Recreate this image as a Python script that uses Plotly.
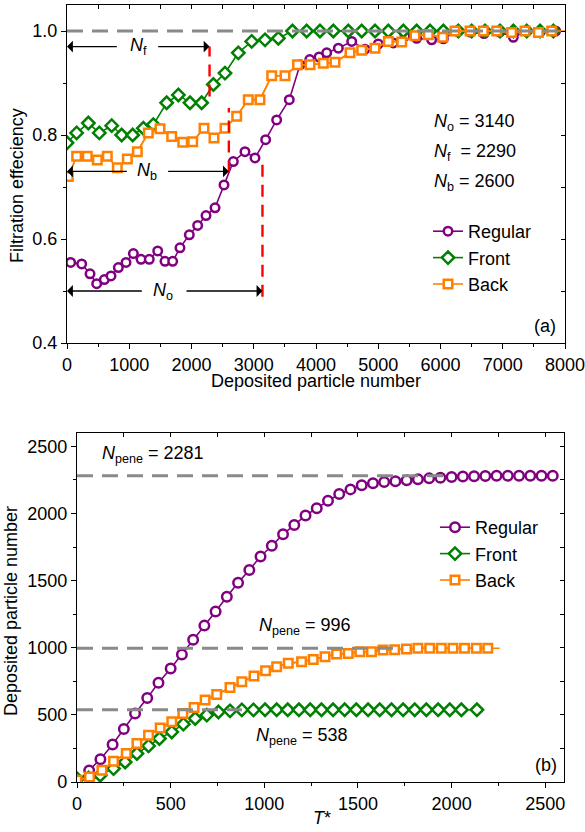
import plotly.graph_objects as go

# ---------------- panel (a) data ----------------
reg_a_x = [59, 236, 370, 477, 600, 707, 825, 948, 1066, 1189, 1322, 1457, 1574, 1698, 1815, 1965,
           2099, 2233, 2378, 2522, 2672, 2859, 3020, 3191, 3368, 3571, 3743, 3900, 4050, 4172, 4359,
           4574, 4787, 5000, 5242, 5430, 5617, 5858, 6046, 6260, 6480, 6700, 6950, 7170, 7385, 7600, 7850]
reg_a_y = [0.555, 0.552, 0.533, 0.514, 0.522, 0.529, 0.545, 0.555, 0.572, 0.561, 0.561, 0.577, 0.557,
           0.557, 0.583, 0.608, 0.626, 0.645, 0.660, 0.704, 0.749, 0.768, 0.756, 0.791, 0.829, 0.868,
           0.935, 0.945, 0.950, 0.958, 0.967, 0.980, 0.965, 0.975, 0.977, 0.990, 0.986, 0.983, 0.985,
           1.0, 0.998, 0.995, 0.998, 0.988, 1.0, 0.998, 1.0]

front_a_x = [0, 155, 343, 519, 718, 878, 1055, 1226, 1387, 1601, 1789, 1976, 2163, 2351, 2538, 2752,
             2967, 3181, 3395, 3622, 3850, 4064, 4278, 4519, 4734, 4948, 5162, 5403, 5617, 5831, 6046,
             6286, 6501, 6715, 6956, 7170, 7385, 7599, 7813]
front_a_y = [0.785, 0.804, 0.823, 0.804, 0.818, 0.800, 0.800, 0.813, 0.820, 0.862, 0.877, 0.862, 0.862,
             0.897, 0.919, 0.958, 0.980, 0.983, 0.986, 1.0, 1.0, 1.0, 1.0, 1.0, 1.0, 1.0, 1.0, 1.0, 1.0,
             1.0, 1.0, 1.0, 1.0, 1.0, 1.0, 1.0, 1.0, 1.0, 1.0]

back_a_x = [21, 155, 326, 487, 647, 808, 969, 1130, 1306, 1494, 1682, 1859, 2019, 2201, 2361, 2538,
            2726, 2912, 3100, 3288, 3502, 3703, 3904, 4118, 4305, 4546, 4734, 4948, 5162, 5377, 5590,
            5804, 6035, 6233, 6474, 6688, 6903, 7143, 7357, 7572, 7786, 8000]
back_a_y = [0.720, 0.759, 0.759, 0.752, 0.759, 0.737, 0.754, 0.768, 0.804, 0.812, 0.797, 0.786, 0.787,
            0.813, 0.794, 0.813, 0.836, 0.868, 0.868, 0.914, 0.914, 0.935, 0.935, 0.938, 0.940, 0.958,
            0.963, 0.967, 0.980, 0.979, 0.991, 0.993, 0.988, 1.0, 1.0, 1.0, 1.0, 0.997, 1.0, 0.997, 1.0, 1.0]

# critical particle numbers (a): N_o, N_f, N_b
n_names_a = ["o", "f", "b"]
n_values_a = [3140, 2290, 2600]
n_arrow_y = [0.50, 0.97, 0.73]          # level of the double arrows
n_red_top = [0.757, 0.97, 0.852]        # red marker line extent
n_red_bot = [0.489, 0.874, 0.728]
n_label_x = [1547, 1146, 1280]
n_gap = [[1226, 1896], [825, 1441], [985, 1601]]   # gap in arrow for label
full_eff = 1.0

# ---------------- panel (b) data ----------------
reg_b_x = [0, 65, 125, 190, 250, 310, 375, 435, 500, 560, 620, 680, 740, 800, 860, 920, 980, 1040,
           1100, 1160, 1220, 1280, 1340, 1400, 1460, 1520, 1580, 1640, 1700, 1760, 1820, 1880, 1940,
           2000, 2060, 2120, 2180, 2240, 2300, 2360, 2420, 2480, 2540]
reg_b_y = [0, 85, 170, 280, 395, 510, 625, 740, 845, 950, 1060, 1165, 1270, 1380, 1485, 1580, 1680,
           1760, 1845, 1915, 1985, 2040, 2095, 2145, 2180, 2210, 2225, 2235, 2240, 2248, 2255, 2262,
           2266, 2272, 2276, 2278, 2280, 2281, 2281, 2281, 2281, 2281, 2281]

front_b_x = [0, 62, 124, 195, 257, 320, 382, 440, 506, 568, 631, 693, 755, 817, 880, 942, 1004, 1066,
             1125, 1185, 1245, 1305, 1367, 1429, 1491, 1554, 1616, 1679, 1741, 1803, 1865, 1928, 1990,
             2052, 2135]
front_b_y = [25, 30, 50, 100, 149, 212, 269, 324, 373, 431, 473, 498, 522, 530, 537, 537, 538, 538,
             538, 538, 538, 538, 538, 538, 538, 538, 538, 538, 538, 538, 538, 538, 538, 538, 538]

back_b_x = [0, 67, 133, 195, 263, 320, 382, 444, 506, 565, 625, 684, 746, 817, 880, 945, 1007, 1066,
            1128, 1199, 1261, 1324, 1386, 1448, 1510, 1572, 1634, 1696, 1759, 1820, 1883, 1945, 2007,
            2069, 2132, 2193, 2256]
back_b_y = [13, 37, 87, 154, 212, 287, 348, 403, 448, 510, 555, 610, 652, 704, 746, 789, 828, 858,
            884, 896, 913, 933, 953, 958, 970, 970, 983, 985, 990, 996, 996, 996, 996, 996, 996, 996, 996]

n_pene = [2281, 996, 538]
n_pene_line_end = [2000, 1700, 880]
n_pene_label_x = [125, 960, 945]
n_pene_label_y = [2438, 1157, 336]

# ---------------- styling ----------------
W, H = 585, 832
FONT = "Arial, Liberation Sans, sans-serif"
FS = 18
PURPLE, GREEN, ORANGE, GRAY = "#800080", "#008000", "#FF8000", "#8a8a8a"


def pxx(v):
    return v / W


def pxy(v):
    return 1 - v / H


fig = go.Figure()


def add_series(x, y, name, color, symbol, size, xa, ya, legend, extend=False):
    if extend:
        fig.add_trace(go.Scatter(x=x, y=y, mode="lines", line=dict(color=color, width=1.6),
                                 xaxis=xa, yaxis=ya, showlegend=False, hoverinfo="skip"))
        x, y = x[:-1], y[:-1]
    fig.add_trace(go.Scatter(
        x=x, y=y, mode="lines+markers", name=name,
        line=dict(color=color, width=1.6),
        marker=dict(symbol=symbol, size=size, color="white", line=dict(color=color, width=2.5)),
        xaxis=xa, yaxis=ya, legend=legend))


add_series(reg_a_x, reg_a_y, "Regular", PURPLE, "circle", 8.5, "x", "y", "legend")
add_series(front_a_x, front_a_y, "Front", GREEN, "diamond", 9.5, "x", "y", "legend")
add_series(back_a_x, back_a_y, "Back", ORANGE, "square", 8.5, "x", "y", "legend", extend=True)

add_series(reg_b_x, reg_b_y, "Regular", PURPLE, "circle", 9.5, "x2", "y2", "legend2")
add_series(front_b_x, front_b_y, "Front", GREEN, "diamond", 9.5, "x2", "y2", "legend2")
add_series(back_b_x, back_b_y, "Back", ORANGE, "square", 8.5, "x2", "y2", "legend2", extend=True)

# dummy traces to realise the mirrored (inside-tick) axes
fig.add_trace(go.Scatter(x=[None], y=[None], xaxis="x3", yaxis="y3", showlegend=False, hoverinfo="skip"))
fig.add_trace(go.Scatter(x=[None], y=[None], xaxis="x4", yaxis="y4", showlegend=False, hoverinfo="skip"))

shapes = []
annos = []
TF = dict(family=FONT, size=FS, color="black")
C = dict(xanchor="center", yanchor="middle", showarrow=False, font=TF)

# panel (a) reference line
shapes.append(dict(type="line", xref="x", yref="y", x0=0, x1=8000, y0=full_eff, y1=full_eff,
                   line=dict(color=GRAY, width=3, dash="16px,9px"), layer="above"))

ARROW = dict(showarrow=True, arrowhead=1, arrowsize=1.4, arrowwidth=1.4, arrowcolor="black",
             axref="x", ayref="y", xref="x", yref="y", text="", standoff=0, startstandoff=0)
for nm, nv, ay, yt, yb, lx, gp in zip(n_names_a, n_values_a, n_arrow_y, n_red_top, n_red_bot,
                                      n_label_x, n_gap):
    shapes.append(dict(type="line", xref="x", yref="y", x0=nv, x1=nv, y0=yb, y1=yt,
                       line=dict(color="#ff0000", width=2.4, dash="12px,8px"), layer="above"))
    annos.append(dict(ARROW, x=0, y=ay, ax=gp[0], ay=ay))
    annos.append(dict(ARROW, x=nv, y=ay, ax=gp[1], ay=ay))
    annos.append(dict(C, xref="x", yref="y", x=lx, y=ay, text=f"<i>N</i><sub>{nm}</sub>"))

txt_y = [0.824, 0.766, 0.708]
txt_sp = ["", " ", ""]
for nm, nv, ty, sp in zip(n_names_a, n_values_a, txt_y, txt_sp):
    annos.append(dict(C, xref="x", yref="y", x=5858, y=ty, xanchor="left",
                      text=f"<i>N</i><sub>{nm}</sub>{sp} = {nv}"))

annos.append(dict(C, xref="x", yref="y", x=7679, y=0.432, text="(a)"))

# panel (b) reference lines
for nv, xe, lx, ly in zip(n_pene, n_pene_line_end, n_pene_label_x, n_pene_label_y):
    shapes.append(dict(type="line", xref="x2", yref="y2", x0=0, x1=xe, y0=nv, y1=nv,
                       line=dict(color=GRAY, width=3, dash="16px,9px"), layer="above"))
    annos.append(dict(C, xref="x2", yref="y2", x=lx, y=ly, xanchor="left",
                      text=f"<i>N</i><sub>pene</sub> = {nv}"))
annos.append(dict(C, xref="x2", yref="y2", x=2505, y=125, text="(b)"))

# axis titles
annos.append(dict(C, xref="paper", yref="paper", x=pxx(316), y=pxy(381),
                  text="Deposited particle number"))
annos.append(dict(C, xref="paper", yref="paper", x=pxx(17), y=pxy(186), textangle=-90,
                  text="Filtration effeciency"))
annos.append(dict(C, xref="paper", yref="paper", x=pxx(322), y=pxy(818), text="<i>T</i>*"))
annos.append(dict(C, xref="paper", yref="paper", x=pxx(11), y=pxy(611), textangle=-90,
                  text="Deposited particle number"))

dom_xa = [pxx(67), pxx(565)]
dom_ya = [pxy(343), pxy(5)]
dom_xb = [pxx(77), pxx(564)]
dom_yb = [pxy(782), pxy(433)]

base = dict(showgrid=False, zeroline=False, showline=True, linecolor="black", linewidth=1.3,
            ticks="outside", ticklen=5, tickwidth=1.2, tickcolor="black", automargin=False,
            tickfont=TF, ticklabeloverflow="allow")
mirror = dict(showgrid=False, zeroline=False, showline=True, linecolor="black", linewidth=1.3,
              ticks="inside", ticklen=4, tickwidth=1.2, tickcolor="black", showticklabels=False,
              automargin=False)

fig.update_layout(
    width=W, height=H, margin=dict(l=0, r=0, t=0, b=0, autoexpand=False),
    paper_bgcolor="white", plot_bgcolor="white",
    font=dict(family=FONT, size=FS, color="black"),
    xaxis=dict(base, domain=dom_xa, anchor="y", range=[0, 8000], dtick=1000,
               minor=dict(dtick=500, ticks="outside", ticklen=3, tickcolor="black")),
    yaxis=dict(base, domain=dom_ya, anchor="x", range=[0.4, 1.05], dtick=0.2, tickformat=".1f",
               minor=dict(dtick=0.1, ticks="outside", ticklen=3, tickcolor="black")),
    xaxis3=dict(mirror, overlaying="x", anchor="y", side="top", range=[0, 8000], dtick=500),
    yaxis3=dict(mirror, overlaying="y", anchor="x", side="right", range=[0.4, 1.05], dtick=0.1),
    xaxis2=dict(base, domain=dom_xb, anchor="y2", range=[0, 2600], dtick=500,
                minor=dict(dtick=250, ticks="outside", ticklen=3, tickcolor="black")),
    yaxis2=dict(base, domain=dom_yb, anchor="x2", range=[0, 2600], dtick=500,
                minor=dict(dtick=250, ticks="outside", ticklen=3, tickcolor="black")),
    xaxis4=dict(mirror, overlaying="x2", anchor="y2", side="top", range=[0, 2600], dtick=250),
    yaxis4=dict(mirror, overlaying="y2", anchor="x2", side="right", range=[0, 2600], dtick=250),
    legend=dict(x=pxx(428), y=pxy(213), xanchor="left", yanchor="top", bgcolor="rgba(0,0,0,0)",
                font=TF, tracegroupgap=0),
    legend2=dict(x=pxx(435), y=pxy(509), xanchor="left", yanchor="top", bgcolor="rgba(0,0,0,0)",
                 font=TF, tracegroupgap=0),
    shapes=shapes, annotations=annos, showlegend=True,
)

fig.write_html("out.html", config={"displayModeBar": False},
               post_script="document.body.style.margin='0';document.body.style.overflow='hidden';")
